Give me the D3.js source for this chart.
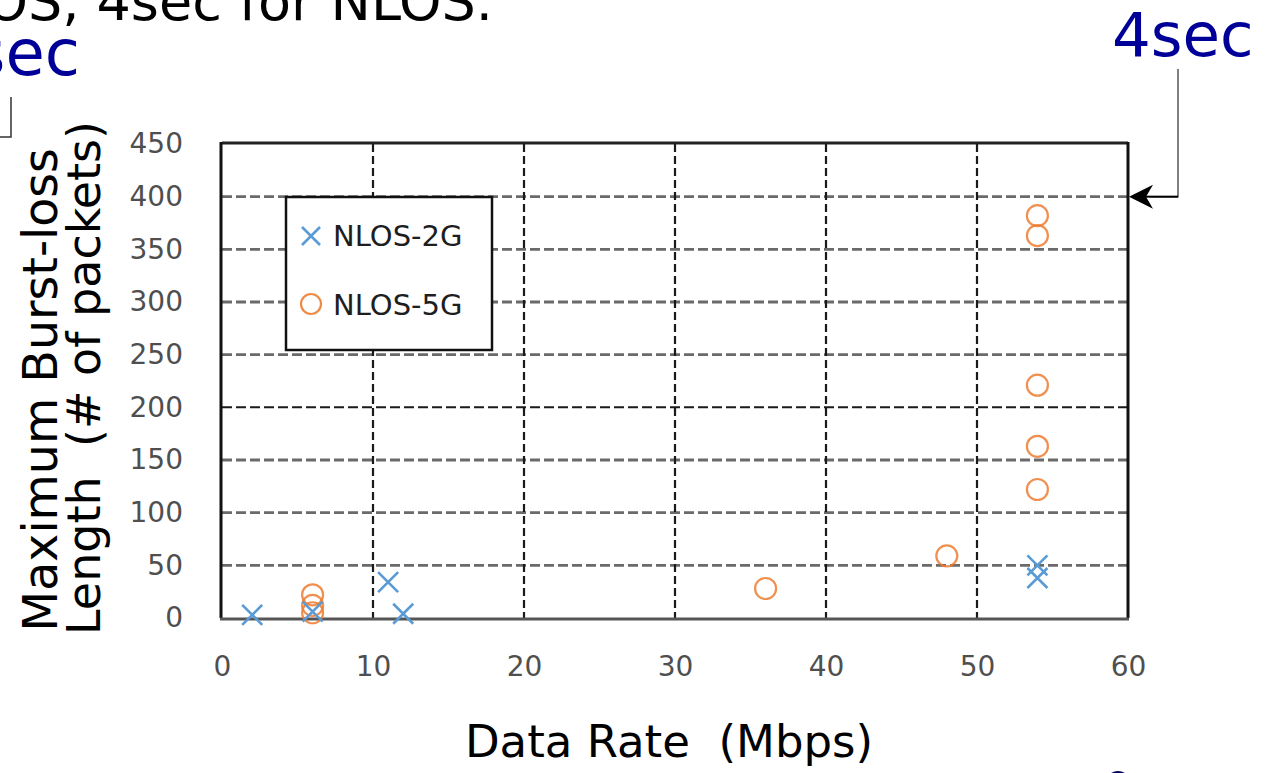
<!DOCTYPE html>
<html>
<head>
<meta charset="utf-8">
<script src="https://cdn.jsdelivr.net/npm/d3@7"></script>
<style>
  html, body { margin: 0; padding: 0; background: #fff; overflow: hidden; }
  svg { display: block; font-family: "DejaVu Sans", Verdana, sans-serif; }
  svg text { white-space: pre; }
</style>
</head>
<body>
<svg id="chart" width="1271" height="773"></svg>
<script>
// ---- data ----
const series = ["NLOS-2G", "NLOS-5G"];
const rates2G = [2, 6, 11, 12, 54, 54];
const loss2G  = [3, 6, 34, 4, 50, 38];
const rates5G = [6, 6, 6, 36, 48, 54, 54, 54, 54, 54];
const loss5G  = [22, 12, 5, 28, 59, 122, 163, 221, 363, 382];
const xTicks = [0, 10, 20, 30, 40, 50, 60];
const yTicks = [0, 50, 100, 150, 200, 250, 300, 350, 400, 450];
const xTitle = "Data Rate  (Mbps)";
const yTitle = ["Maximum Burst-loss", "Length  (# of packets)"];
const topText = "LOS, 4sec for NLOS.";
const noteLeft = "4sec";
const noteRight = "4sec";
const markedValue = 400;

const svg = d3.select("#chart");
const x = d3.scaleLinear().domain([0, 60]).range([222, 1128]);
const y = d3.scaleLinear().domain([0, 450]).range([618, 144]);

// ---- gridlines ----
const grid = svg.append("g");
grid.selectAll("line.h").data(yTicks.filter(v => v > 0 && v < 450)).enter().append("line")
  .attr("x1", x(0)).attr("x2", x(60))
  .attr("y1", d => y(d)).attr("y2", d => y(d))
  .attr("stroke", d => d === 200 ? "#1a1a1a" : "#6a6a6a")
  .attr("stroke-width", d => d === 200 ? 2 : 2.8)
  .attr("stroke-dasharray", "10,4");
grid.selectAll("line.v").data(xTicks.filter(v => v > 0 && v < 60)).enter().append("line")
  .attr("x1", d => x(d)).attr("x2", d => x(d))
  .attr("y1", y(450)).attr("y2", y(0))
  .attr("stroke", "#1a1a1a").attr("stroke-width", 2.2)
  .attr("stroke-dasharray", "8,4");

// ---- frame ----
svg.append("line").attr("x1", x(0)).attr("x2", x(60)).attr("y1", y(450) - 1).attr("y2", y(450) - 1)
  .attr("stroke", "#222").attr("stroke-width", 3);
svg.append("line").attr("x1", x(60)).attr("x2", x(60)).attr("y1", y(450) - 2).attr("y2", y(0))
  .attr("stroke", "#111").attr("stroke-width", 3);
svg.append("line").attr("x1", x(0) - 1).attr("x2", x(0) - 1).attr("y1", y(450) - 2).attr("y2", y(0))
  .attr("stroke", "#111").attr("stroke-width", 3);
svg.append("line").attr("x1", x(0) - 2).attr("x2", x(60) + 1).attr("y1", y(0) + 1).attr("y2", y(0) + 1)
  .attr("stroke", "#555").attr("stroke-width", 3);

// ---- axes ----
const xAxis = svg.append("g").attr("transform", `translate(0,${y(0)})`)
  .call(d3.axisBottom(x).tickValues(xTicks).tickSize(0).tickPadding(38));
const yAxis = svg.append("g").attr("transform", `translate(${x(0)},0)`)
  .call(d3.axisLeft(y).tickValues(yTicks).tickSize(0).tickPadding(39));
[xAxis, yAxis].forEach(a => {
  a.select(".domain").remove();
  a.selectAll("text").attr("font-family", "DejaVu Sans, sans-serif")
    .attr("font-size", 28).attr("fill", "#4f4f4f");
});

// ---- legend box ----
const lg = svg.append("g");
lg.append("rect").attr("x", 286).attr("y", 197).attr("width", 206).attr("height", 153)
  .attr("fill", "#fff").attr("stroke", "#111").attr("stroke-width", 2.5);

function cross(sel, cx, cy, s) {
  sel.append("path")
    .attr("d", `M${cx - s},${cy - s}L${cx + s},${cy + s}M${cx - s},${cy + s}L${cx + s},${cy - s}`)
    .attr("stroke", "#5b9bd5").attr("stroke-width", 2.6).attr("fill", "none");
}
cross(lg, 311, 236, 9);
lg.append("circle").attr("cx", 311).attr("cy", 304).attr("r", 10)
  .attr("fill", "none").attr("stroke", "#ed7d31").attr("stroke-width", 2.2).attr("opacity", 0.9);
lg.selectAll("text").data(series).enter().append("text")
  .attr("x", 333).attr("y", (d, i) => i === 0 ? 246 : 315)
  .attr("font-size", 29).attr("fill", "#1e1e1e").text(d => d);

// ---- data marks ----
const m5 = svg.append("g");
rates5G.forEach((r, i) => {
  m5.append("circle").attr("cx", x(r)).attr("cy", y(loss5G[i])).attr("r", 10.5)
    .attr("fill", "none").attr("stroke", "#ed7d31").attr("stroke-width", 2.2).attr("opacity", 0.85);
});
const m2 = svg.append("g");
rates2G.forEach((r, i) => cross(m2, x(r), y(loss2G[i]), 10));

// ---- axis titles ----
svg.append("text").attr("x", 669).attr("y", 757)
  .attr("text-anchor", "middle").attr("font-size", 45).attr("fill", "#000").text(xTitle);
const yCenters = [390, 378];
const ySizes = [47.5, 46];
yTitle.forEach((t, i) => {
  svg.append("text")
    .attr("transform", `translate(${57 + i * 43},${yCenters[i]}) rotate(-90)`)
    .attr("text-anchor", "middle").attr("font-size", ySizes[i]).attr("fill", "#000").text(t);
});

// ---- annotations ----
svg.append("text").attr("x", 493).attr("y", 20).attr("text-anchor", "end")
  .attr("font-size", 54).attr("fill", "#000").text(topText);
svg.append("text").attr("x", 80).attr("y", 75).attr("text-anchor", "end")
  .attr("font-size", 64).attr("fill", "#000099").text(noteLeft);
svg.append("text").attr("x", 1112).attr("y", 56).attr("text-anchor", "start")
  .attr("font-size", 61).attr("fill", "#000099").text(noteRight);

// left bracket
svg.append("path").attr("d", "M11,97L11,137L0,137").attr("fill", "none")
  .attr("stroke", "#333").attr("stroke-width", 1.5);
// right arrow pointing at the 400 level
const ay = y(markedValue);
svg.append("path").attr("d", `M1178,69L1178,${ay}L1150,${ay}`).attr("fill", "none")
  .attr("stroke", "#555").attr("stroke-width", 1.5);
svg.append("line").attr("x1", 1178).attr("x2", 1146).attr("y1", ay).attr("y2", ay)
  .attr("stroke", "#000").attr("stroke-width", 2);
svg.append("path")
  .attr("d", `M${x(60) + 1},${ay}L${x(60) + 25},${ay - 12}L${x(60) + 18},${ay}L${x(60) + 25},${ay + 12}Z`)
  .attr("fill", "#000");
// small partial mark at bottom edge
svg.append("ellipse").attr("cx", 1118).attr("cy", 777).attr("rx", 9).attr("ry", 6).attr("fill", "#000066");
</script>
</body>
</html>
